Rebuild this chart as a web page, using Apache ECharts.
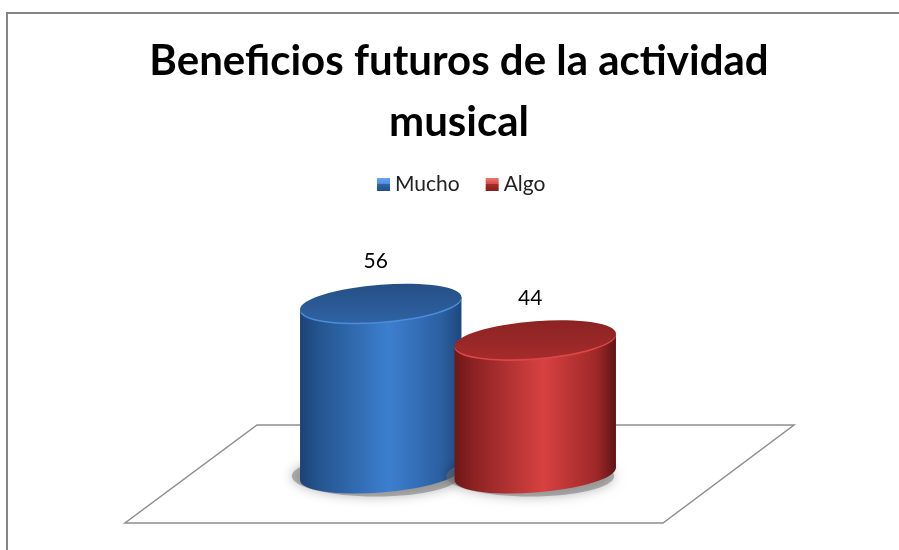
<!DOCTYPE html>
<html>
<head>
<meta charset="utf-8">
<script src="https://cdn.jsdelivr.net/npm/echarts@6/dist/echarts.min.js"></script>
<style>
  html, body { margin: 0; padding: 0; background: #ffffff; }
  #chart { width: 899px; height: 550px; }
</style>
</head>
<body>
<div id="chart"></div>
<script>
// Chart data
const categories = ['Beneficios futuros'];
const seriesNames = ['Mucho', 'Algo'];
const muchoValues = [56];
const algoValues = [44];
const titleText = 'Beneficios futuros de la actividad\nmusical';

const FONT = 'Lato, "Open Sans", sans-serif';
const LG = echarts.graphic.LinearGradient;

const palettes = {
  Mucho: {
    body: [[0, '#1b4274'], [0.12, '#25558f'], [0.55, '#3c7fcf'], [0.88, '#2b5fa0'], [1, '#1d477c']],
    top: [[0, '#264f86'], [1, '#2e62a2']],
    rim: '#4b8ddb',
    legend: [[0, '#6aa7f0'], [0.45, '#4f8bd8'], [0.5, '#2f64a8'], [1, '#264f86']]
  },
  Algo: {
    body: [[0, '#6e1717'], [0.12, '#8c2222'], [0.55, '#d84141'], [0.88, '#9e2828'], [1, '#5e1414']],
    top: [[0, '#8c2323'], [1, '#a52b2b']],
    rim: '#dc4646',
    legend: [[0, '#f07474'], [0.45, '#d84a4a'], [0.5, '#a82a2a'], [1, '#861f1f']]
  }
};

function grad(x2, y2, stops) {
  return new LG(0, 0, x2, y2, stops.map(s => ({ offset: s[0], color: s[1] })));
}

// Ellipse seen in slight perspective: tilt in degrees, right side raised
const TILT = 4.6;

function tiltedEllipse(rx, ry) {
  const p = TILT * Math.PI / 180;
  const c = Math.cos(p), s = Math.sin(p);
  const xm = Math.sqrt(rx * rx * c * c + ry * ry * s * s);
  const d = (rx * rx - ry * ry) * s * c / xm;
  const ym = Math.sqrt(rx * rx * s * s + ry * ry * c * c);
  return { xm: xm, d: d, ym: ym };
}

function ellipsePath(cx, cy, rx, ry) {
  const g = tiltedEllipse(rx, ry);
  const lx = cx - g.xm, ly = cy + g.d, rX = cx + g.xm, rY = cy - g.d;
  return 'M' + lx + ' ' + ly +
    ' A' + rx + ' ' + ry + ' ' + (-TILT) + ' 0 1 ' + rX + ' ' + rY +
    ' A' + rx + ' ' + ry + ' ' + (-TILT) + ' 0 1 ' + lx + ' ' + ly + ' Z';
}

function bodyPath(cx, topY, baseY, rx, ry) {
  const g = tiltedEllipse(rx, ry);
  return 'M' + (cx - g.xm) + ' ' + (topY + g.d) +
    ' L' + (cx - g.xm) + ' ' + (baseY + g.d) +
    ' A' + rx + ' ' + ry + ' ' + (-TILT) + ' 0 0 ' + (cx + g.xm) + ' ' + (baseY - g.d) +
    ' L' + (cx + g.xm) + ' ' + (topY - g.d) + ' Z';
}

// Draws one cylinder per data item; slot shifts it left/right inside the category band
function cylinder(slot, pal) {
  return function (params, api) {
    const value = api.value(1);
    const top = api.coord([api.value(0), value]);
    const base = api.coord([api.value(0), 0]);
    const band = api.size([1, 0])[0];
    const cx = top[0] + slot * band / 4;
    const rx = band * 0.262;
    const ry = 18.5;
    const g = tiltedEllipse(rx, ry);
    return {
      type: 'group',
      children: [
        {
          type: 'ellipse',
          shape: { cx: cx - 5, cy: base[1] + 2, rx: rx + 3, ry: ry + 2 },
          style: { fill: 'rgba(110,110,110,0.5)', shadowBlur: 12, shadowColor: 'rgba(0,0,0,0.55)' }
        },
        {
          type: 'path',
          shape: { pathData: bodyPath(cx, top[1], base[1], rx, ry) },
          style: { fill: grad(1, 0, pal.body) }
        },
        {
          type: 'path',
          shape: { pathData: ellipsePath(cx, top[1] + 1.6, rx, ry) },
          style: { fill: pal.rim }
        },
        {
          type: 'path',
          shape: { pathData: ellipsePath(cx, top[1], rx, ry) },
          style: { fill: grad(0, 1, pal.top) }
        },
        {
          type: 'text',
          style: {
            text: String(value),
            x: cx - 5,
            y: top[1] - g.ym - 22,
            fill: '#000000',
            font: '21px ' + FONT,
            align: 'center',
            verticalAlign: 'middle'
          }
        }
      ]
    };
  };
}

function makeSeries(name, values, slot) {
  const pal = palettes[name];
  return {
    name: name,
    type: 'custom',
    z: 2,
    silent: true,
    itemStyle: { color: grad(0, 1, pal.legend) },
    renderItem: cylinder(slot, pal),
    data: values.map((v, i) => [i, v])
  };
}

const chart = echarts.init(document.getElementById('chart'), null, { renderer: 'canvas' });
chart.setOption({
  animation: false,
  backgroundColor: '#ffffff',
  title: {
    text: titleText,
    left: 454,
    top: 26,
    textAlign: 'center',
    textStyle: { fontFamily: FONT, fontSize: 42, fontWeight: 'bold', color: '#000000', lineHeight: 61 }
  },
  legend: {
    data: seriesNames,
    left: 372,
    top: 169,
    itemWidth: 13,
    itemHeight: 13,
    itemGap: 26,
    icon: 'rect',
    selectedMode: false,
    textStyle: { fontFamily: FONT, fontSize: 21, color: '#222222' }
  },
  grid: { left: 303.5, width: 309, top: 291, height: 183 },
  xAxis: { type: 'category', data: categories, show: false },
  yAxis: { type: 'value', min: 0, max: 60, show: false },
  graphic: [
    {
      type: 'rect',
      z: 0,
      silent: true,
      shape: { x: 7, y: 13, width: 920, height: 580 },
      style: { fill: 'none', stroke: '#868686', lineWidth: 2 }
    },
    {
      type: 'polygon',
      z: 0,
      silent: true,
      shape: { points: [[257, 425], [794, 425], [663, 523], [125, 523]] },
      style: { fill: '#ffffff', stroke: '#8f8f8f', lineWidth: 1.5 }
    }
  ],
  series: [
    makeSeries('Mucho', muchoValues, -1),
    makeSeries('Algo', algoValues, 1)
  ]
});
</script>
</body>
</html>
